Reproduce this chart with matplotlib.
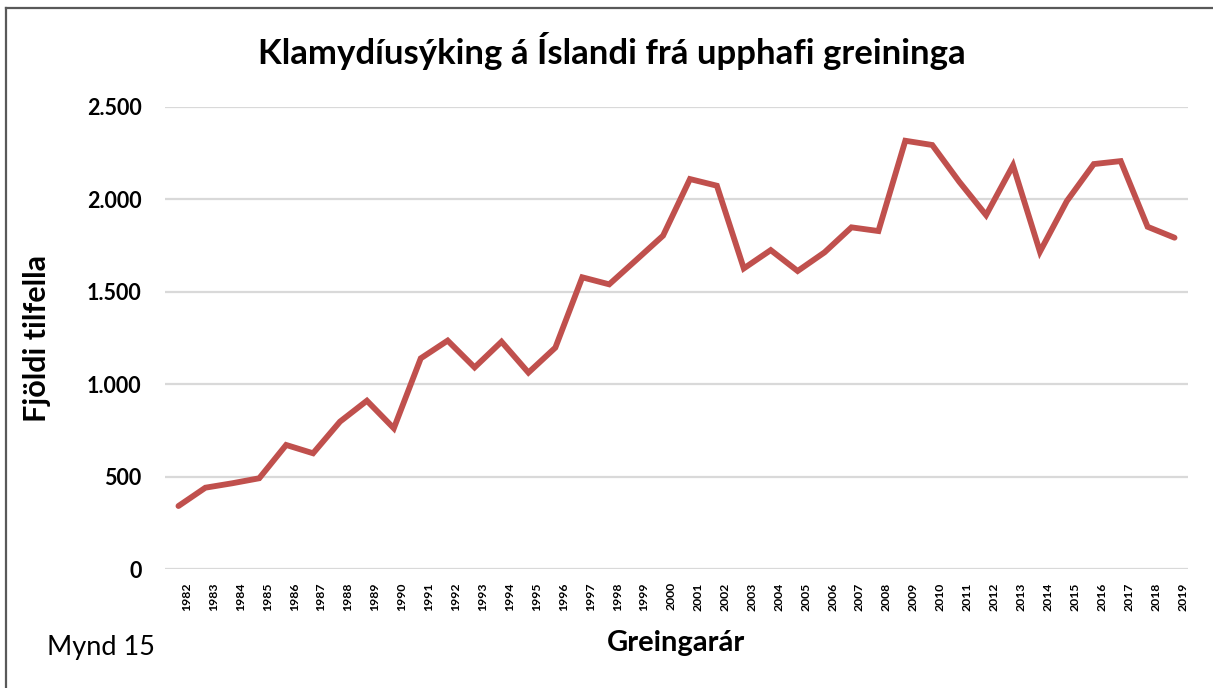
import matplotlib
matplotlib.use("Agg")
import matplotlib.pyplot as plt
from matplotlib.lines import Line2D
from matplotlib.ticker import FuncFormatter
from matplotlib.transforms import ScaledTranslation

plt.rcParams['font.family'] = ['Lato', 'DejaVu Sans']

# data
years = list(range(1982, 2020))
cases = [342, 441, 465, 492, 672, 627, 798, 911, 762, 1140,
         1236, 1091, 1230, 1063, 1198, 1578, 1540, 1671, 1803, 2109,
         2073, 1626, 1725, 1612, 1713, 1848, 1828, 2316, 2293, 2095,
         1914, 2183, 1716, 1990, 2190, 2206, 1851, 1792]
yticks = [0, 500, 1000, 1500, 2000, 2500]

title = "Klamydíusýking á Íslandi frá upphafi greininga"
ylabel = "Fjöldi tilfella"
xlabel = "Greingarár"
note = "Mynd 15"

W, H = 1213, 688
fig = plt.figure(figsize=(W / 100, H / 100), dpi=100)
fig.patch.set_facecolor("white")

# plot area in pixels: x 165-1188, y 107-569
ax = fig.add_axes([165 / W, 1 - 569.3 / H, (1188 - 165) / W, (569.3 - 106.7) / H])
ax.plot(years, cases, color="#C0504D", lw=4.2, solid_joinstyle="miter", solid_capstyle="round", zorder=3)

ax.set_xlim(1981.5, 2019.5)
ax.set_ylim(0, 2500)
ax.set_yticks(yticks)
ax.yaxis.set_major_formatter(FuncFormatter(lambda v, p: f"{int(v):,}".replace(",", ".")))
ax.set_xticks(years)
ax.set_xticklabels([])
# year labels sit a little right of their category in the original
shift = ax.get_xaxis_transform() + ScaledTranslation(8 / 100, -13 / 100, fig.dpi_scale_trans)
for y in years:
    ax.text(y, 0, str(y), transform=shift, rotation=90, ha="center", va="top",
            fontsize=8.8, fontweight="bold", clip_on=False)
for lab in ax.get_yticklabels():
    lab.set_fontsize(15.5)
    lab.set_fontweight("bold")
ax.tick_params(axis="y", length=0, pad=17)
ax.tick_params(axis="x", length=0)
ax.grid(axis="y", color="#D9D9D9", lw=1.6, zorder=0)
for s in ax.spines.values():
    s.set_visible(False)

fig.text(612 / W, 1 - 51 / H, title, ha="center", va="center", fontsize=25, fontweight="bold")
fig.text(37 / W, 1 - 339 / H, ylabel, ha="center", va="center", rotation=90, fontsize=22, fontweight="bold")
fig.text(676 / W, 1 - 643 / H, xlabel, ha="center", va="center", fontsize=21, fontweight="bold")
fig.text(47 / W, 1 - 648 / H, note, ha="left", va="center", fontsize=19.5)

# frame on the left and top edges
fig.add_artist(Line2D([6 / W, 6 / W], [0, 1 - 7.5 / H], transform=fig.transFigure, color="#595959", lw=1.6))
fig.add_artist(Line2D([6 / W, 1], [1 - 7.5 / H, 1 - 7.5 / H], transform=fig.transFigure, color="#595959", lw=1.6))

fig.savefig("out.png", dpi=100)
